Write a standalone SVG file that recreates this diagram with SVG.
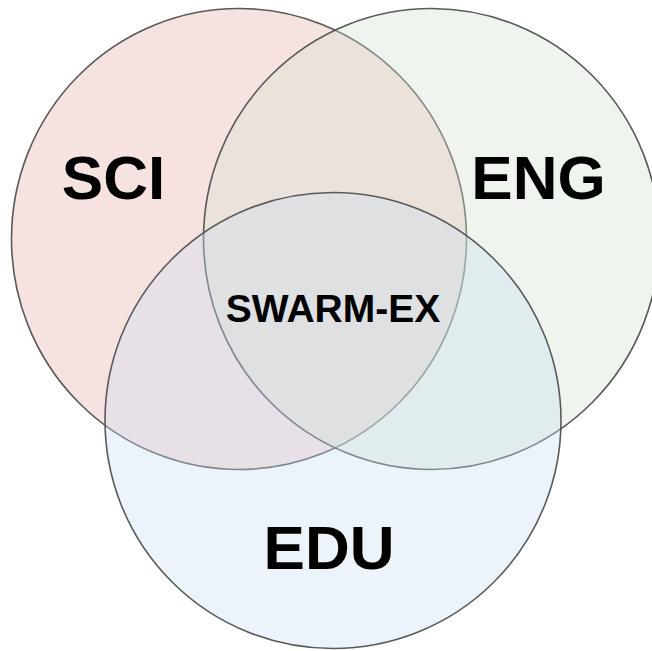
<svg xmlns="http://www.w3.org/2000/svg" width="652" height="651" viewBox="0 0 652 651">
  <style>
    .set { stroke: #595959; stroke-width: 1.6; fill-opacity: 0.35; }
    .label { font-family: "Liberation Sans", Arial, sans-serif; font-weight: bold; fill: #000; text-anchor: middle; }
    .big { font-size: 62px; }
    .core { font-size: 39px; }
  </style>
  <rect width="652" height="651" fill="#ffffff"/>
  <g id="sci">
    <ellipse class="set" cx="239" cy="239" rx="227.5" ry="230.5" fill="#E8ACAC"/>
  </g>
  <g id="eng">
    <ellipse class="set" cx="431.5" cy="239" rx="228" ry="230.5" fill="#D1E2CE"/>
  </g>
  <g id="edu">
    <ellipse class="set" cx="333" cy="420.5" rx="228" ry="228" fill="#C9DDF1"/>
  </g>
  <g id="labels">
    <text class="label big" x="113.5" y="199">SCI</text>
    <text class="label big" x="538.5" y="199">ENG</text>
    <text class="label big" x="329" y="569">EDU</text>
    <text class="label core" x="333" y="322">SWARM-EX</text>
  </g>
</svg>
